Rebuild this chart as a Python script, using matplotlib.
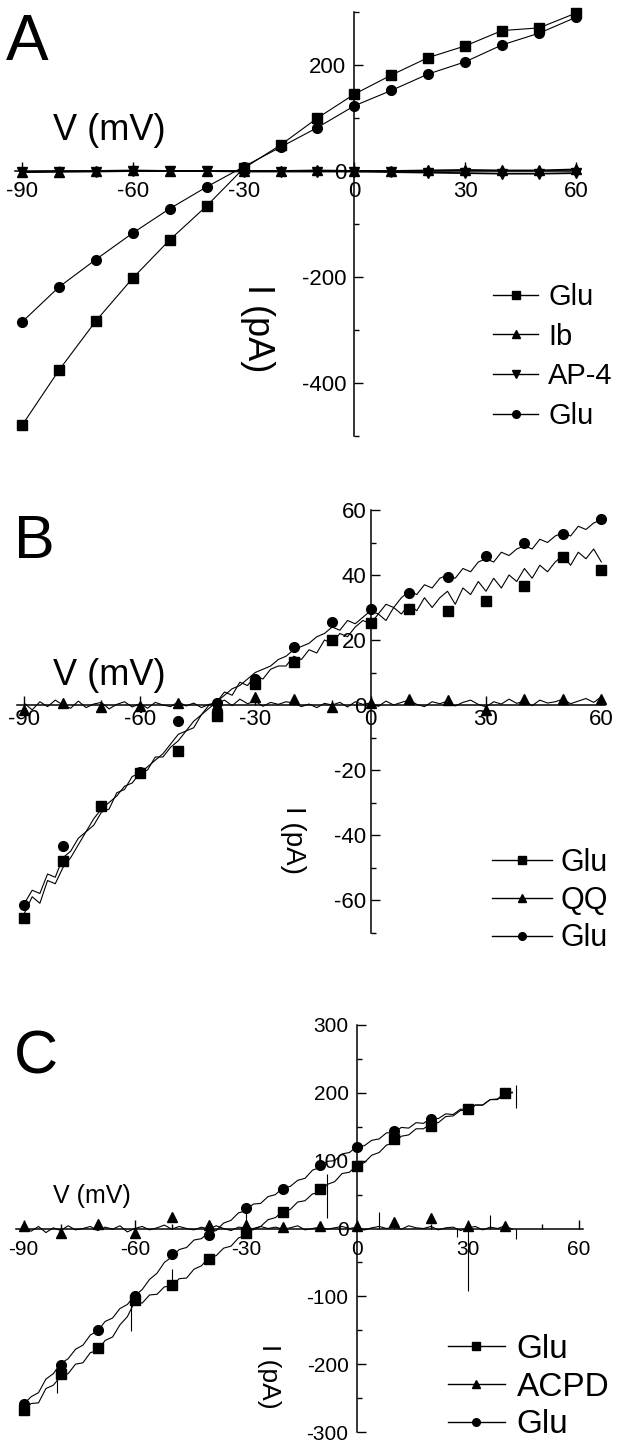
import matplotlib
matplotlib.use("Agg")
import matplotlib.pyplot as plt
from matplotlib.ticker import MultipleLocator
from matplotlib.lines import Line2D

plt.rcParams['font.family'] = ['Liberation Sans', 'DejaVu Sans']
plt.rcParams['axes.unicode_minus'] = False

# ---------------- data ----------------
# Panel A (markers every 10 mV)
a_v = [-90, -80, -70, -60, -50, -40, -30, -20, -10, 0, 10, 20, 30, 40, 50, 60]
a_glu1 = [-480, -376, -283, -202, -130, -66, 5, 49, 100, 145, 181, 214, 236, 265, 270, 298]
a_ib = [-2, -1, 0, 1, 0, 0, 0, 0, 1, 0, 0, 1, 2, 1, 1, 3]
a_ap4 = [-2, -1, -1, 0, 0, 0, -1, -1, -1, -1, -2, -3, -4, -5, -5, -4]
a_glu2 = [-285, -219, -167, -117, -71, -30, 8, 45, 82, 123, 152, 183, 206, 238, 260, 290]

# Panel B traces (every 2 mV) and markers (every 10 mV)
b_vt = list(range(-90, 61, 2))
b_glu1_t = [-64, -59, -61, -54, -55, -50, -47, -43, -39, -37,
            -33, -32, -27, -26, -22, -21, -20, -16, -16, -13,
            -11, -8, -7, -3, -1, 1, 4, 3, 7, 6,
            9, 8, 11, 12, 12, 15, 14, 17, 16, 20,
            19, 22, 21, 24, 26, 25, 28, 26, 30, 28,
            31, 29, 33, 30, 33, 35, 31, 36, 34, 38,
            35, 39, 36, 40, 38, 42, 39, 43, 41, 44,
            46, 43, 47, 45, 48, 44]
b_qq_t = [0.5, -1.5, 1.0, -0.5, 1.5, 0.0, -1.0, 1.2, -0.8, 0.3,
          0.8, -1.2, 0.2, 1.0, -0.6, 0.4, -1.0, 0.8, 0.0, -0.5,
          1.0, -0.3, 0.6, -0.8, 0.2, 0.5, 1.5, -0.2, 1.8, 0.4,
          1.2, -0.4, 0.8, 0.2, 1.0, 0.6, -0.5, 0.3, -0.8, 0.5,
          0.0, 0.8, -0.6, 1.0, 0.2, 0.6, -0.4, 1.2, 0.0, 0.8,
          1.5, 0.2, -0.5, 1.0, 0.4, 1.2, -0.3, 0.8, 1.5, 0.2,
          -0.6, 1.0, 0.3, 1.8, 0.5, 1.2, -0.2, 1.5, 0.6, 1.0,
          1.8, 0.4, 1.2, 2.0, 0.8, 2.5]
b_glu2_t = [-61, -57, -58, -52, -53, -47, -45, -41, -39, -35,
            -32, -30, -28, -25, -24, -21, -19, -17, -15, -12,
            -9, -8, -5, -3, 0, 1, 3, 5, 6, 8,
            10, 11, 12, 14, 15, 17, 18, 19, 21, 22,
            24, 23, 26, 25, 27, 29, 28, 31, 30, 33,
            35, 34, 37, 36, 39, 40, 39, 42, 41, 44,
            45, 44, 47, 46, 48, 49, 48, 51, 50, 52,
            53, 52, 55, 54, 56, 57]
b_v = [-90, -80, -70, -60, -50, -40, -30, -20, -10, 0, 10, 20, 30, 40, 50, 60]
b_glu1 = [-65.5, -48, -31, -21, -14, -3.5, 6.6, 13.3, 19.9, 25.2, 29.6, 28.9, 32.1, 36.7, 45.6, 41.6]
b_qq = [-1.5, 0.5, -0.5, -0.3, 0.7, 0, 2.5, 2, -0.5, 0.5, 2, 1.5, -1.5, 1.7, 2, 2]
b_glu2 = [-61.5, -43.5, -31, -20.5, -5, 0.5, 8, 18, 25.5, 29.4, 34.4, 39.5, 45.9, 50, 52.6, 57.1]

# Panel C traces (every 2 mV), spikes and markers
c_vt = list(range(-90, 43, 2))
c_glu1_t = [-268, -258, -257, -236, -231, -218, -214, -200, -198, -183,
            -180, -165, -160, -142, -130, -108, -110, -98, -97, -86,
            -85, -74, -73, -60, -55, -43, -40, -29, -26, -14,
            -10, 0, 3, 13, 16, 26, 28, 39, 41, 51,
            53, 65, 69, 81, 83, 93, 97, 108, 112, 123,
            126, 136, 138, 147, 147, 155, 156, 165, 166, 174,
            174, 182, 182, 190, 191, 200, 201]
c_acpd_t = [2, -4, 3, -6, 1, -3, 4, -2, 0, 3,
            -3, 2, -1, 4, -5, 0, 3, -2, 1, 5,
            -1, 3, 0, -2, 2, -1, 4, 0, -3, 2,
            1, -2, 3, 0, 2, -1, 1, 4, -2, 0,
            2, -1, 1, 3, 0, 2, -2, 1, 3, 0,
            2, -1, 4, 1, 0, 3, -2, 1, 2, -3,
            1, 3, -2, 2, 0, 4, -1]
c_glu2_t = [-259, -248, -242, -222, -214, -199, -192, -178, -172, -157,
            -151, -137, -132, -118, -112, -99, -90, -75, -66, -50,
            -42, -31, -28, -17, -15, -6, -3, 8, 12, 23,
            26, 36, 37, 47, 50, 60, 62, 71, 74, 86,
            90, 99, 100, 110, 112, 121, 122, 130, 132, 141,
            141, 149, 148, 156, 155, 163, 162, 169, 168, 176,
            175, 182, 182, 190, 190, 199, 200]
c_spike_v = [-81, -61, -50, -30, -8, 6, 27, 30, 36, 43, 43]
c_spike_lo = [-242, -151, -90, -5, 15, 0, -12, -92, 0, -15, 178]
c_spike_hi = [-212, -105, -60, 33, 80, 25, 0, 0, 20, 0, 212]
c_v = [-90, -80, -70, -60, -50, -40, -30, -20, -10, 0, 10, 20, 30, 40]
c_glu1 = [-268, -215, -176, -105, -83, -45, -7, 24, 58, 92, 132, 151, 176, 200]
c_acpd = [3, -6, 7, -7, 17, 5, 5, 2, 3, 3, 9, 15, 3, 3]
c_glu2 = [-259, -201, -149, -100, -37, -9, 30, 58, 93, 120, 144, 161, 176, 200]

# ---------------- figure ----------------
W, H = 619, 1446
fig = plt.figure(figsize=(W / 100, H / 100), dpi=100)


def px_axes(x0, x1, ytop, ybot):
    return [x0 / W, 1 - ybot / H, (x1 - x0) / W, (ybot - ytop) / H]


def ftxt(x, y, s, **kw):
    fig.text(x / W, 1 - y / H, s, **kw)


def style_axis(ax, xlim, ylim, ymaj, ymin, tick_fs, xpad, ypad):
    ax.set_xlim(*xlim)
    ax.set_ylim(*ylim)
    for s in ('top', 'right'):
        ax.spines[s].set_visible(False)
    ax.spines['left'].set_position(('data', 0))
    ax.spines['bottom'].set_position(('data', 0))
    for s in ('left', 'bottom'):
        ax.spines[s].set_linewidth(1.1)
    ax.xaxis.set_major_locator(MultipleLocator(30))
    ax.xaxis.set_minor_locator(MultipleLocator(10))
    ax.yaxis.set_major_locator(MultipleLocator(ymaj))
    ax.yaxis.set_minor_locator(MultipleLocator(ymin))
    ax.tick_params(which='both', direction='in', width=1.0, labelsize=tick_fs)
    ax.tick_params(which='major', length=6.5)
    ax.tick_params(which='minor', length=3.5)
    ax.tick_params(axis='x', pad=xpad)
    ax.tick_params(axis='y', pad=ypad)
    ax.patch.set_visible(False)


LW = 0.8
MS = 7
LMS = 5.5

# ---- Panel A ----
axA = fig.add_axes(px_axes(14.6, 579.7, 12, 436))
style_axis(axA, (-92, 61), (-500, 300), 200, 100, 16, 7, 6)
hA = []
for vals, mk, lab, lw in [(a_glu1, 's', 'Glu', LW), (a_ib, '^', 'Ib', 1.3),
                          (a_ap4, 'v', 'AP-4', 1.3), (a_glu2, 'o', 'Glu', LW)]:
    axA.plot(a_v, vals, color='k', lw=lw, marker=mk, ms=MS, clip_on=False, zorder=3)
    hA.append(Line2D([], [], color='k', lw=1.0, marker=mk, ms=LMS, label=lab))
axA.legend(handles=hA, loc='upper left', bbox_to_anchor=(493 / W, 1 - 283 / H),
           bbox_transform=fig.transFigure, frameon=False, fontsize=21,
           handlelength=1.55, handletextpad=0.35, labelspacing=0.4,
           borderpad=0, borderaxespad=0)

# ---- Panel B ----
axB = fig.add_axes(px_axes(16.8, 605.2, 510, 932.5))
style_axis(axB, (-92, 61), (-70, 60), 20, 10, 16, 3, 3)
hB = []
for tr, vals, mk, lab in [(b_glu1_t, b_glu1, 's', 'Glu'), (b_qq_t, b_qq, '^', 'QQ'),
                          (b_glu2_t, b_glu2, 'o', 'Glu')]:
    axB.plot(b_vt, tr, color='k', lw=LW, clip_on=False, zorder=2)
    axB.plot(b_v, vals, color='k', lw=0, marker=mk, ms=MS, clip_on=False, zorder=3)
    hB.append(Line2D([], [], color='k', lw=1.0, marker=mk, ms=LMS, label=lab))
axB.legend(handles=hB, loc='upper left', bbox_to_anchor=(492 / W, 1 - 848 / H),
           bbox_transform=fig.transFigure, frameon=False, fontsize=22,
           handlelength=1.95, handletextpad=0.28, labelspacing=0.25,
           borderpad=0, borderaxespad=0)

# ---- Panel C ----
axC = fig.add_axes(px_axes(16.3, 582.7, 1025, 1432))
style_axis(axC, (-92, 61), (-300, 300), 100, 50, 15, 8, 6)
hC = []
for tr, vals, mk, lab in [(c_glu1_t, c_glu1, 's', 'Glu'), (c_acpd_t, c_acpd, '^', 'ACPD'),
                          (c_glu2_t, c_glu2, 'o', 'Glu')]:
    axC.plot(c_vt, tr, color='k', lw=LW, clip_on=False, zorder=2)
    axC.plot(c_v, vals, color='k', lw=0, marker=mk, ms=MS, clip_on=False, zorder=3)
    hC.append(Line2D([], [], color='k', lw=1.0, marker=mk, ms=LMS, label=lab))
axC.vlines(c_spike_v, c_spike_lo, c_spike_hi, color='k', lw=LW, zorder=2)
axC.legend(handles=hC, loc='upper left', bbox_to_anchor=(448 / W, 1 - 1334 / H),
           bbox_transform=fig.transFigure, frameon=False, fontsize=24,
           handlelength=1.7, handletextpad=0.36, labelspacing=0.2,
           borderpad=0, borderaxespad=0)

# ---- panel letters and axis labels ----
ftxt(6, 60, 'A', fontsize=46, va='baseline', ha='left')
ftxt(14, 558, 'B', fontsize=44, va='baseline', ha='left')
ftxt(14, 1073, 'C', fontsize=44, va='baseline', ha='left')

ftxt(53, 140, 'V (mV)', fontsize=26, va='baseline', ha='left')
ftxt(53, 685, 'V (mV)', fontsize=26, va='baseline', ha='left')
ftxt(53, 1203, 'V (mV)', fontsize=18, va='baseline', ha='left')

ftxt(258, 328, 'I (pA)', fontsize=26, rotation=-90, va='center', ha='center')
ftxt(293, 840, 'I (pA)', fontsize=20, rotation=-90, va='center', ha='center')
ftxt(269, 1376, 'I (pA)', fontsize=19, rotation=-90, va='center', ha='center')

fig.savefig('out.png', dpi=100)
